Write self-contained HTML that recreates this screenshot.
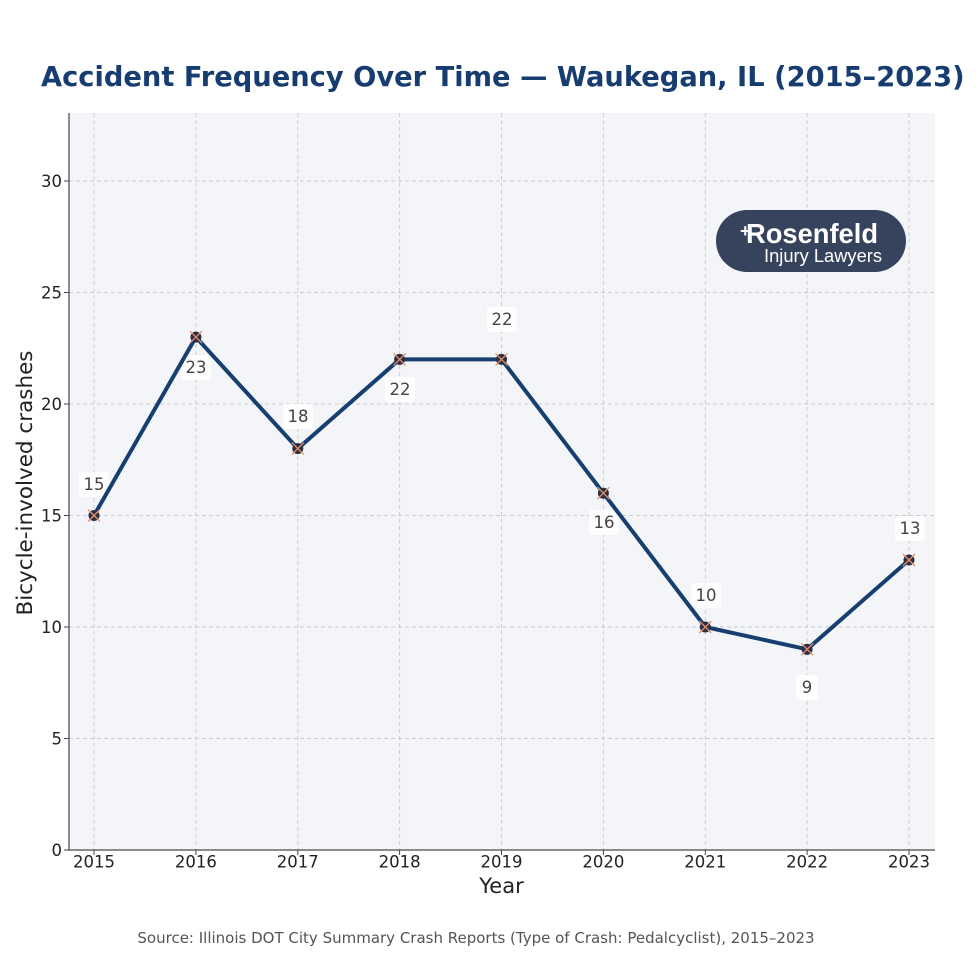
<!DOCTYPE html>
<html><head><meta charset="utf-8"><style>
html,body{margin:0;padding:0;background:#fff;}
svg{display:block;}
text{font-family:"DejaVu Sans","Liberation Sans",sans-serif;}
</style></head><body>
<svg width="980" height="980" viewBox="0 0 980 980" xmlns="http://www.w3.org/2000/svg">
<rect width="980" height="980" fill="#fff"/>
<text x="41" y="86" font-size="27.3" font-weight="bold" fill="#173d70">Accident Frequency Over Time — Waukegan, IL (2015–2023)</text>
<rect x="69" y="113" width="866" height="737" fill="#f3f5f8"/>
<g stroke="#c9cbcf" stroke-width="0.9" stroke-dasharray="4,3" fill="none">
<line x1="69" y1="181" x2="935" y2="181"/>
<line x1="69" y1="292.5" x2="935" y2="292.5"/>
<line x1="69" y1="404" x2="935" y2="404"/>
<line x1="69" y1="515.5" x2="935" y2="515.5"/>
<line x1="69" y1="627" x2="935" y2="627"/>
<line x1="69" y1="738.5" x2="935" y2="738.5"/>
<line x1="94" y1="113" x2="94" y2="850"/>
<line x1="195.9" y1="113" x2="195.9" y2="850"/>
<line x1="297.8" y1="113" x2="297.8" y2="850"/>
<line x1="399.6" y1="113" x2="399.6" y2="850"/>
<line x1="501.5" y1="113" x2="501.5" y2="850"/>
<line x1="603.4" y1="113" x2="603.4" y2="850"/>
<line x1="705.3" y1="113" x2="705.3" y2="850"/>
<line x1="807.1" y1="113" x2="807.1" y2="850"/>
<line x1="909" y1="113" x2="909" y2="850"/>
</g>
<g stroke="#666" stroke-width="1.5">
<line x1="69" y1="113" x2="69" y2="850.7"/>
<line x1="68.3" y1="850" x2="935" y2="850"/>
</g>
<g stroke="#444" stroke-width="1">
<line x1="64" y1="181" x2="69" y2="181"/><line x1="64" y1="292.5" x2="69" y2="292.5"/>
<line x1="64" y1="404" x2="69" y2="404"/><line x1="64" y1="515.5" x2="69" y2="515.5"/>
<line x1="64" y1="627" x2="69" y2="627"/><line x1="64" y1="738.5" x2="69" y2="738.5"/>
<line x1="64" y1="850" x2="69" y2="850"/>
<line x1="94" y1="850" x2="94" y2="855"/><line x1="195.9" y1="850" x2="195.9" y2="855"/>
<line x1="297.8" y1="850" x2="297.8" y2="855"/><line x1="399.6" y1="850" x2="399.6" y2="855"/>
<line x1="501.5" y1="850" x2="501.5" y2="855"/><line x1="603.4" y1="850" x2="603.4" y2="855"/>
<line x1="705.3" y1="850" x2="705.3" y2="855"/><line x1="807.1" y1="850" x2="807.1" y2="855"/>
<line x1="909" y1="850" x2="909" y2="855"/>
</g>
<g font-size="16.5" fill="#222" text-anchor="end">
<text x="62" y="187">30</text><text x="62" y="298.5">25</text><text x="62" y="410">20</text>
<text x="62" y="521.5">15</text><text x="62" y="633">10</text><text x="62" y="744.5">5</text><text x="62" y="856">0</text>
</g>
<g font-size="16.5" fill="#222" text-anchor="middle">
<text x="94" y="867.5">2015</text><text x="195.9" y="867.5">2016</text><text x="297.8" y="867.5">2017</text>
<text x="399.6" y="867.5">2018</text><text x="501.5" y="867.5">2019</text><text x="603.4" y="867.5">2020</text>
<text x="705.3" y="867.5">2021</text><text x="807.1" y="867.5">2022</text><text x="909" y="867.5">2023</text>
</g>
<text x="501.5" y="893" font-size="21" fill="#222" text-anchor="middle">Year</text>
<text transform="translate(32,483) rotate(-90)" font-size="21.5" fill="#222" text-anchor="middle">Bicycle-involved crashes</text>
<!-- logo -->
<rect x="716" y="210" width="190" height="62" rx="31" fill="#36435c"/>
<text x="740" y="237" font-size="18" font-weight="bold" fill="#fff" style="font-family:'Liberation Sans',sans-serif">+</text>
<text x="812" y="243" font-size="28" font-weight="bold" fill="#fff" text-anchor="middle" style="font-family:'Liberation Sans',sans-serif" textLength="132" lengthAdjust="spacingAndGlyphs">Rosenfeld</text>
<text x="823" y="262" font-size="18" fill="#fff" text-anchor="middle" style="font-family:'Liberation Sans',sans-serif" textLength="118" lengthAdjust="spacingAndGlyphs">Injury Lawyers</text>
<!-- labels -->
<g font-size="16.5" fill="#444" text-anchor="middle">
<rect x="79" y="472" width="30" height="25" rx="3" fill="#fff" fill-opacity="0.85"/><text x="94" y="490">15</text>
<rect x="181" y="355" width="30" height="25" rx="3" fill="#fff" fill-opacity="0.85"/><text x="196" y="373">23</text>
<rect x="283" y="404" width="30" height="25" rx="3" fill="#fff" fill-opacity="0.85"/><text x="298" y="422">18</text>
<rect x="385" y="377" width="30" height="25" rx="3" fill="#fff" fill-opacity="0.85"/><text x="400" y="395">22</text>
<rect x="487" y="307" width="30" height="25" rx="3" fill="#fff" fill-opacity="0.85"/><text x="502" y="325">22</text>
<rect x="589" y="510" width="30" height="25" rx="3" fill="#fff" fill-opacity="0.85"/><text x="604" y="528">16</text>
<rect x="691" y="583" width="30" height="25" rx="3" fill="#fff" fill-opacity="0.85"/><text x="706" y="601">10</text>
<rect x="796" y="675" width="22" height="25" rx="3" fill="#fff" fill-opacity="0.85"/><text x="807" y="693">9</text>
<rect x="895" y="516" width="30" height="25" rx="3" fill="#fff" fill-opacity="0.85"/><text x="910" y="534">13</text>
</g>
<polyline points="94,515.5 195.9,337.1 297.8,448.6 399.6,359.4 501.5,359.4 603.4,493.2 705.3,627 807.1,649.3 909,560" fill="none" stroke="#163f70" stroke-width="4" stroke-linejoin="round" stroke-linecap="round"/>
<g>
<g fill="#2a2f45">
<circle cx="94" cy="515.5" r="5.5"/><circle cx="195.9" cy="337.1" r="5.5"/><circle cx="297.8" cy="448.6" r="5.5"/>
<circle cx="399.6" cy="359.4" r="5.5"/><circle cx="501.5" cy="359.4" r="5.5"/><circle cx="603.4" cy="493.2" r="5.5"/>
<circle cx="705.3" cy="627" r="5.5"/><circle cx="807.1" cy="649.3" r="5.5"/><circle cx="909" cy="560" r="5.5"/>
</g>
<g stroke="#e8906a" stroke-width="1.3">
<path d="M88,509.5l12,12M100,509.5l-12,12"/>
<path d="M189.9,331.1l12,12M201.9,331.1l-12,12"/>
<path d="M291.8,442.6l12,12M303.8,442.6l-12,12"/>
<path d="M393.6,353.4l12,12M405.6,353.4l-12,12"/>
<path d="M495.5,353.4l12,12M507.5,353.4l-12,12"/>
<path d="M597.4,487.2l12,12M609.4,487.2l-12,12"/>
<path d="M699.3,621l12,12M711.3,621l-12,12"/>
<path d="M801.1,643.3l12,12M813.1,643.3l-12,12"/>
<path d="M903,554l12,12M915,554l-12,12"/>
</g>
</g>
<text x="476" y="943" font-size="15" fill="#555" text-anchor="middle">Source: Illinois DOT City Summary Crash Reports (Type of Crash: Pedalcyclist), 2015–2023</text>
</svg>
</body></html>
